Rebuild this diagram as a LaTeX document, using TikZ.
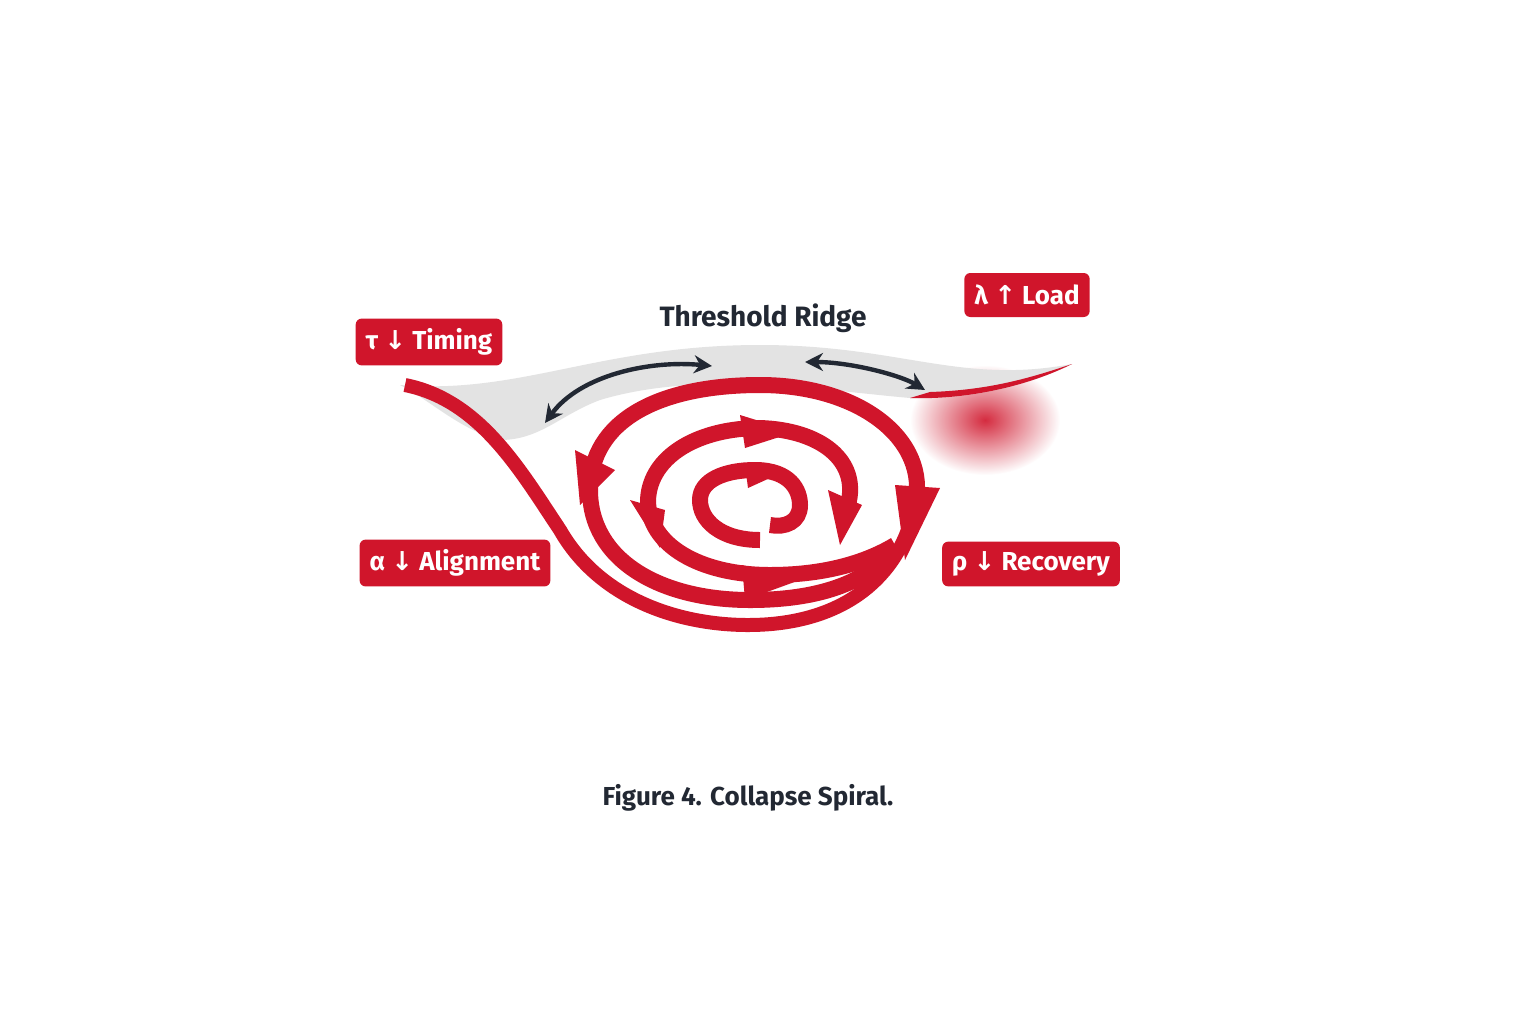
\documentclass[tikz,border=0pt]{standalone}
\usepackage{fontspec}
\setmainfont{Fira Sans}
\newfontfamily\arrfont{DejaVu Sans}
\usetikzlibrary{arrows.meta,decorations.markings,shadings}
\definecolor{cred}{HTML}{D0152B}
\definecolor{dark}{HTML}{222833}
\tikzset{
 tag/.style={fill=cred,rounded corners=3pt,text=white,font=\fontsize{13}{15}\selectfont\bfseries,inner sep=5pt,minimum height=22pt},
 spir/.style={draw=cred,line width=8pt},
 dbl/.style={draw=dark,line width=2.2pt,{Stealth[length=9pt,width=9pt]}-{Stealth[length=9pt,width=9pt]}},
 tip/.style={fill=cred}
}
\begin{document}
\begin{tikzpicture}[x=0.5pt,y=-0.5pt]
\useasboundingbox (0,0) rectangle (1536,1024);
\fill[white] (0,0) rectangle (1536,1024);
% red glow
\shade[inner color=cred,outer color=white,opacity=0.9] (985,420) ellipse (75 and 55);
% ridge
\fill[gray!22] (400,385) .. controls (520,395) and (600,345) .. (760,345) .. controls (900,345) and (960,385) .. (1072,364)
 .. controls (1030,385) and (970,400) .. (910,398) .. controls (820,390) and (700,370) .. (600,400) .. controls (560,415) and (540,440) .. (500,440) .. controls (460,430) and (430,400) .. (400,385) -- cycle;
\fill[cred] (1072,364) .. controls (1030,385) and (970,400) .. (910,398) -- (930,392) .. controls (990,390) and (1030,378) .. (1072,364);
% left tail and outer loop
\draw[cred,line width=7pt] (405,385) .. controls (480,400) and (520,470) .. (560,530) .. controls (600,600) and (680,625) .. (748,625)
 .. controls (840,625) and (900,580) .. (915,505);
\draw[spir] (915,505) .. controls (930,440) and (860,385) .. (760,385) .. controls (660,385) and (590,420) .. (590,490) .. controls (590,560) and (660,600) .. (750,600) .. controls (840,600) and (880,570) .. (895,545);
% middle turn
\draw[spir] (848,505) .. controls (860,460) and (820,430) .. (760,428) .. controls (700,428) and (650,455) .. (648,500) .. controls (648,545) and (700,575) .. (770,575) .. controls (830,575) and (870,560) .. (895,545);
% inner turn
\draw[spir] (760,540) .. controls (720,540) and (700,520) .. (700,500) .. controls (700,480) and (725,470) .. (755,470) .. controls (790,470) and (800,490) .. (800,505) .. controls (800,522) and (785,528) .. (770,525);
% arrow heads
\fill[cred] (740,415) -- (795,432) -- (745,448) -- cycle;
\fill[cred] (742,565) -- (800,580) -- (745,600) -- cycle;
\fill[cred] (828,490) -- (862,505) -- (840,545) -- cycle;
\fill[cred] (630,500) -- (665,510) -- (660,548) -- cycle;
\fill[cred] (575,450) -- (615,470) -- (580,505) -- cycle;
\fill[cred] (895,485) -- (940,488) -- (905,560) -- cycle;
\fill[cred] (745,465) -- (770,478) -- (748,488) -- cycle;
% dark double arrows
\draw[dbl] (545,423) .. controls (580,375) and (650,360) .. (712,366);
\draw[dbl] (805,362) .. controls (850,362) and (900,375) .. (925,390);
% labels
\node[tag] (t) at (429,342) {τ {\arrfont↓} Timing};
\node[tag] (l) at (1027,295) {λ {\arrfont↑} Load};
\node[tag] (a) at (455,563) {α {\arrfont↓} Alignment};
\node[tag] (r) at (1031,564) {ρ {\arrfont↓} Recovery};
\node[text=dark,font=\fontsize{14}{16}\selectfont\bfseries] (ridge) at (763,318) {Threshold Ridge};
\node[text=dark,font=\fontsize{13}{15}\selectfont\bfseries] (cap) at (748,798) {Figure 4. Collapse Spiral.};
\end{tikzpicture}
\end{document}
